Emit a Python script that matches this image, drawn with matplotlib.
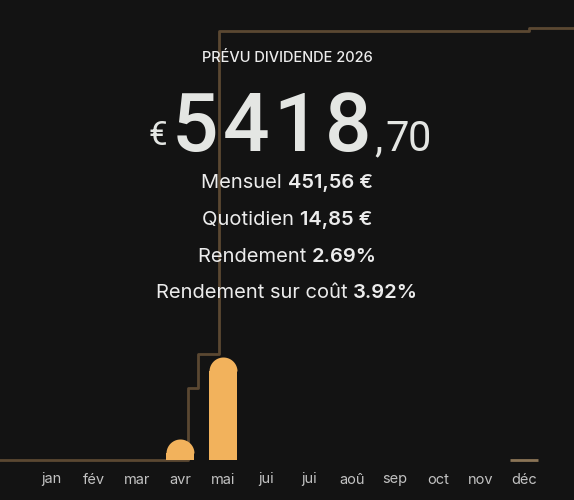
import numpy as np
import matplotlib
matplotlib.use("Agg")
import matplotlib.pyplot as plt
from matplotlib.path import Path

# données
months = ["jan", "fév", "mar", "avr", "mai", "jui", "jui", "aoû", "sep", "oct", "nov", "déc"]
monthly = [0, 0, 0, 910, 4470, 0, 0, 0, 0, 0, 0, 38.7]
# cumul (position en mois, montant cumulé)
cum_x = [-1.3, 3.19, 3.43, 3.91, 11.12, 12.3]
cum_y = [0, 903, 1330, 5381, 5418.7, 5418.7]

title = "PRÉVU DIVIDENDE 2026"
total_int = "5418"
total_dec = ",70"
stats_labels = ["Mensuel", "Quotidien", "Rendement", "Rendement sur coût"]
stats_values = ["451,56 €", "14,85 €", "2.69%", "3.92%"]

bg = "#131313"
bar_color = "#f2b25c"
line_color = "#5b4832"
text_color = "#ececec"

W, H = 574, 500
fig = plt.figure(figsize=(W / 100, H / 100), dpi=100, facecolor=bg)
ax = fig.add_axes([0, 40 / H, 1, 460 / H])
ax.set_facecolor(bg)
ax.set_xlim(-51 / 43, (W - 51) / 43)
ax.set_ylim(0, 460 / 0.02304)
for s in ax.spines.values():
    s.set_visible(False)
ax.set_yticks([])
x = np.arange(len(months))
ax.set_xticks(x)
ax.set_xticklabels(months, color="#c2c2c2", fontsize=10.5, family="Inter")
ax.tick_params(axis="x", length=0, pad=9)

# courbe cumulée (axe secondaire)
ax2 = ax.twinx()
ax2.set_ylim(0, 460 / 0.07973)
ax2.set_yticks([])
for s in ax2.spines.values():
    s.set_visible(False)
ax2.plot(cum_x, cum_y, drawstyle="steps-post", color=line_color, lw=2.0,
         clip_on=False, zorder=1)
ax.set_zorder(ax2.get_zorder() + 1)
ax.patch.set_visible(False)
ax2.patch.set_visible(True)
ax2.patch.set_facecolor(bg)

# barres à sommet arrondi
width_px = 28
bw = width_px / 43
r = (width_px / 2) / 0.02304
t = np.linspace(0, np.pi, 40)
half = Path(np.column_stack([np.cos(t), np.sin(t)]), closed=False)
vals = np.array(monthly)
big = vals > r
ax.bar(x[big], vals[big] - r * 0.97, width=bw, color=bar_color, lw=0, zorder=3)
ax.plot(x[big], vals[big] - r, ls="none", marker=half, ms=width_px * 0.72,
        mfc=bar_color, mec=bar_color, mew=0, zorder=3)
small = (vals > 0) & ~big
ax.hlines([0] * small.sum(), x[small] - bw / 2, x[small] + bw / 2,
          color="#8a7456", lw=2.0, clip_on=False, zorder=3)

# textes
def px(xp, yp):
    return xp / W, 1 - yp / H

fig.text(*px(287, 62), title, ha="center", va="baseline", color=text_color,
         fontsize=10.5, family="Inter", fontweight="medium")

num_color = "#e4e6e3"
# chiffres espacés (chasse large)
for i, ch in enumerate(total_int):
    fig.text(*px(195 + 51 * i, 151), ch, ha="center", va="baseline",
             color=num_color, fontsize=59, family="Roboto", fontweight="medium")
for i, ch in enumerate(total_dec):
    xc = 378 if ch == "," else 375 + 22 * i
    fig.text(*px(xc, 151), ch, ha="center", va="baseline", color=num_color,
             fontsize=30, family="Roboto")
fig.text(*px(167, 145), "€", ha="right", va="baseline", color=num_color,
         fontsize=24, family="Roboto")

baselines = [188, 225, 262, 298]
renderer = fig.canvas.get_renderer()
for lab, val, yb in zip(stats_labels, stats_values, baselines):
    t1 = fig.text(0, 0, lab + " ", ha="left", va="baseline", color=text_color,
                  fontsize=14.5, family="Inter", fontweight="normal")
    t2 = fig.text(0, 0, val, ha="left", va="baseline", color=text_color,
                  fontsize=14.5, family="Inter", fontweight="semibold")
    w1 = t1.get_window_extent(renderer).width
    w2 = t2.get_window_extent(renderer).width
    x0 = 287 - (w1 + w2) / 2
    t1.set_position(px(x0, yb))
    t2.set_position(px(x0 + w1, yb))

fig.savefig("out.png", dpi=100, facecolor=bg)
